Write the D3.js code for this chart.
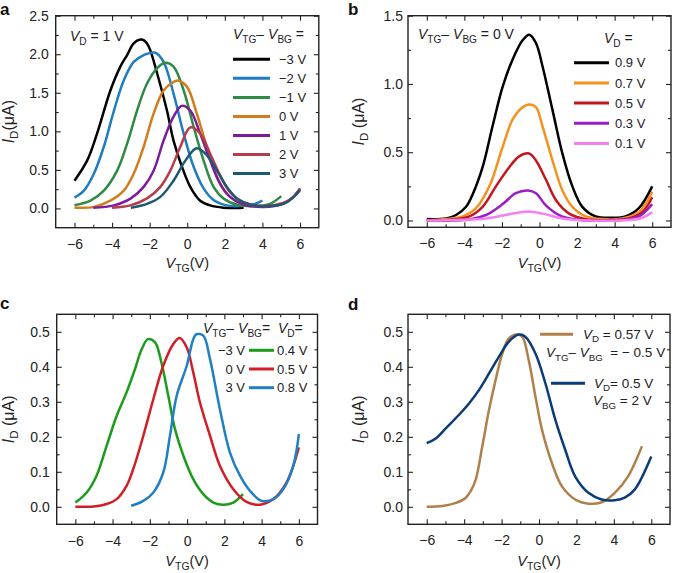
<!DOCTYPE html>
<html><head><meta charset="utf-8">
<script src="https://cdn.jsdelivr.net/npm/d3@7"></script>
<style>
body{margin:0;background:#fff;}
text{font-family:"Liberation Sans",Arial,Helvetica,sans-serif;white-space:pre;}
</style></head>
<body><svg id="c" width="673" height="573"></svg>
<script>
// ---------- DATA ----------
// Panel a: V_D = 1 V, V_TG - V_BG offsets
const aLabels = ["\u22123 V","\u22122 V","\u22121 V","0 V","1 V","2 V","3 V"];
const a_m3 = [[-6,0.36],[-5.33,0.62],[-4.8,0.97],[-4.09,1.53],[-3.56,1.84],[-3.2,1.99],[-2.85,2.14],[-2.5,2.19],[-2.3,2.18],[-2.05,2.1],[-1.6,1.75],[-1.08,1.27],[-0.73,0.88],[-0.28,0.54],[0.16,0.28],[0.69,0.10],[1.22,0.04],[1.93,0.01],[2.5,0.005],[3,0.01]];
const a_m2 = [[-6,0.14],[-5.5,0.23],[-4.97,0.45],[-4.44,0.8],[-3.9,1.27],[-3.38,1.66],[-2.85,1.9],[-2.32,1.99],[-1.9,2.02],[-1.7,2.02],[-1.26,1.9],[-0.73,1.49],[-0.19,0.97],[0.34,0.54],[0.87,0.26],[1.4,0.11],[2.1,0.04],[2.8,0.03],[3.5,0.05],[4,0.1]];
const a_m1 = [[-6,0.04],[-5.15,0.1],[-4.44,0.23],[-3.73,0.49],[-3.2,0.84],[-2.67,1.27],[-2.14,1.62],[-1.6,1.82],[-1.17,1.89],[-0.73,1.84],[-0.19,1.53],[0.34,1.06],[0.87,0.62],[1.4,0.28],[1.93,0.13],[2.64,0.05],[3.5,0.03],[4.4,0.06],[5,0.16]];
const a_0  = [[-6,0.01],[-4.97,0.02],[-4.09,0.1],[-3.38,0.23],[-2.85,0.45],[-2.32,0.8],[-1.79,1.23],[-1.26,1.53],[-0.73,1.64],[-0.5,1.66],[-0.02,1.58],[0.51,1.23],[1.04,0.8],[1.58,0.41],[2.1,0.19],[2.8,0.07],[3.88,0.03],[4.94,0.05],[5.5,0.12],[6,0.23]];
const a_1  = [[-5,0.01],[-3.9,0.04],[-3.0,0.13],[-2.32,0.28],[-1.79,0.49],[-1.26,0.88],[-0.73,1.19],[-0.3,1.33],[0.16,1.27],[0.69,0.97],[1.22,0.62],[1.75,0.32],[2.28,0.15],[2.99,0.05],[4.05,0.02],[5.1,0.06],[5.6,0.14],[6,0.26]];
const a_2  = [[-4,0.01],[-3.03,0.04],[-2.14,0.13],[-1.43,0.28],[-0.9,0.49],[-0.37,0.8],[0.16,1.05],[0.69,0.97],[1.22,0.71],[1.75,0.43],[2.28,0.21],[2.99,0.08],[4.05,0.03],[5.1,0.07],[5.6,0.14],[6,0.25]];
const a_3  = [[-3,0.01],[-2.14,0.06],[-1.43,0.15],[-0.73,0.36],[-0.1,0.62],[0.5,0.78],[1.04,0.69],[1.58,0.49],[2.1,0.28],[2.64,0.13],[3.35,0.05],[4.23,0.03],[5.29,0.08],[6,0.24]];
// Panel b: V_TG - V_BG = 0 V, V_D values
const bLabels = ["0.9 V","0.7 V","0.5 V","0.3 V","0.1 V"];
const b_09 = [[-6,0.01],[-4.97,0.015],[-4.44,0.04],[-3.91,0.1],[-3.56,0.19],[-3.03,0.39],[-2.5,0.69],[-1.96,0.98],[-1.43,1.18],[-0.9,1.32],[-0.55,1.36],[-0.19,1.3],[0.16,1.13],[0.69,0.81],[1.22,0.49],[1.75,0.25],[2.28,0.1],[2.99,0.03],[3.88,0.02],[4.58,0.03],[5.29,0.09],[6,0.25]];
const b_07 = [[-6,0],[-4.97,0.01],[-4.09,0.03],[-3.38,0.09],[-2.67,0.25],[-1.96,0.54],[-1.43,0.74],[-0.9,0.83],[-0.55,0.85],[-0.19,0.83],[0.16,0.69],[0.69,0.44],[1.22,0.22],[1.75,0.1],[2.46,0.03],[3.35,0.01],[4.4,0.015],[5.29,0.06],[6,0.21]];
const b_05 = [[-6,0],[-4.62,0.007],[-3.73,0.03],[-3.03,0.1],[-2.32,0.25],[-1.61,0.39],[-1.08,0.47],[-0.55,0.49],[-0.19,0.44],[0.34,0.3],[0.87,0.15],[1.58,0.05],[2.46,0.01],[3.7,0.003],[4.76,0.015],[5.47,0.06],[6,0.17]];
const b_03 = [[-6,0],[-3.73,0.007],[-2.85,0.04],[-1.96,0.12],[-1.26,0.2],[-0.6,0.22],[-0.19,0.2],[0.34,0.11],[1.04,0.04],[1.93,0.007],[4.23,0.002],[5.29,0.03],[6,0.12]];
const b_01 = [[-6,0],[-2.85,0.015],[-1.61,0.046],[-0.6,0.066],[0.16,0.05],[1.22,0.015],[2.28,0.002],[4.76,0.003],[5.47,0.02],[6,0.06]];
// Panel c
const cLeftLabels = ["\u22123 V","0 V","3 V"];
const cRightLabels = ["0.4 V","0.5 V","0.8 V"];
const c_g = [[-6,0.012],[-5.39,0.041],[-4.86,0.089],[-4.32,0.174],[-3.78,0.26],[-3.25,0.327],[-2.8,0.393],[-2.44,0.45],[-2.1,0.479],[-1.72,0.47],[-1.37,0.41],[-1.01,0.317],[-0.65,0.222],[-0.2,0.146],[0.33,0.079],[0.87,0.036],[1.41,0.012],[1.94,0.006],[2.48,0.012],[3,0.036]];
const c_r = [[-6,0],[-5.03,0.001],[-4.32,0.008],[-3.78,0.022],[-3.25,0.06],[-2.89,0.108],[-2.35,0.203],[-1.81,0.308],[-1.28,0.403],[-0.74,0.465],[-0.4,0.482],[-0.02,0.455],[0.33,0.384],[0.69,0.298],[1.23,0.203],[1.76,0.117],[2.48,0.05],[3.19,0.014],[3.91,0.006],[4.63,0.022],[5.34,0.07],[6,0.17]];
const c_b = [[-3,0.003],[-2.35,0.017],[-1.81,0.041],[-1.28,0.098],[-0.92,0.203],[-0.56,0.317],[-0.02,0.403],[0.33,0.479],[0.5,0.493],[0.87,0.489],[1.23,0.422],[1.76,0.279],[2.3,0.155],[2.84,0.089],[3.37,0.046],[4.0,0.017],[4.63,0.022],[5.16,0.05],[5.7,0.117],[6,0.208]];
// Panel d
const d_t = [[-6,0],[-5.15,0.002],[-4.44,0.011],[-3.91,0.026],[-3.65,0.045],[-3.38,0.078],[-3.03,0.173],[-2.67,0.277],[-2.32,0.362],[-1.96,0.438],[-1.61,0.481],[-1.2,0.492],[-0.9,0.486],[-0.55,0.419],[-0.19,0.315],[0.16,0.22],[0.69,0.125],[1.22,0.059],[1.93,0.021],[2.64,0.009],[3.35,0.013],[4.05,0.04],[4.76,0.087],[5.5,0.173]];
const d_n = [[-6,0.182],[-5.5,0.196],[-4.97,0.225],[-4.27,0.263],[-3.73,0.296],[-3.2,0.334],[-2.67,0.381],[-2.14,0.429],[-1.61,0.472],[-1.08,0.492],[-0.73,0.486],[-0.19,0.438],[0.34,0.353],[0.87,0.249],[1.4,0.163],[1.93,0.087],[2.64,0.04],[3.35,0.021],[4.05,0.019],[4.58,0.026],[5.11,0.049],[6,0.144]];

const xMajor = [-6,-4,-2,0,2,4,6];
const xMinor = [-5,-3,-1,1,3,5];
const aYMajor = [0,0.5,1,1.5,2,2.5], aYMinor = [0.25,0.75,1.25,1.75,2.25];
const bYMajor = [0,0.5,1,1.5], bYMinor = [0.25,0.75,1.25];
const cdYMajor = [0,0.1,0.2,0.3,0.4,0.5], cdYMinor = [0.05,0.15,0.25,0.35,0.45];

// ---------- DRAW ----------
const svg = d3.select("#c");
const FS = 14;

function rich(g, x, y, segs, size, anchor) {
  const t = g.append("text").attr("x", x).attr("y", y).attr("font-size", size)
    .attr("text-anchor", anchor || "start").attr("fill", "#222");
  let off = 0;
  segs.forEach(([s, st]) => {
    const ts = t.append("tspan").text(s);
    const sub = st.includes("s");
    const target = sub ? size * 0.28 : 0;
    if (target !== off) { ts.attr("dy", target - off); off = target; }
    if (sub) ts.attr("font-size", size * 0.72);
    if (st.includes("i")) ts.attr("font-style", "italic");
  });
  return t;
}

function panel(p) {
  const g = svg.append("g");
  const x = d3.scaleLinear().domain([-7, 7]).range([p.x0, p.x1]);
  const y = d3.scaleLinear().domain(p.ydom).range([p.y1, p.y0]);
  const fmt = d3.format(".1f");
  const style = s => { s.select(".domain").remove(); s.selectAll("line").attr("stroke", "#222").attr("stroke-width", 1.1); s.selectAll("text").attr("font-size", FS).attr("fill", "#222").attr("font-family", "Liberation Sans, Arial, sans-serif"); };
  g.append("g").attr("transform", `translate(0,${p.y1})`)
    .call(d3.axisBottom(x).tickValues(xMajor).tickSize(-5).tickSizeOuter(0).tickPadding(p.xpad).tickFormat(d3.format("d"))).call(style);
  g.append("g").attr("transform", `translate(0,${p.y1})`)
    .call(d3.axisBottom(x).tickValues(xMinor).tickSize(-3).tickSizeOuter(0).tickFormat("")).call(style);
  g.append("g").attr("transform", `translate(0,${p.y0})`)
    .call(d3.axisTop(x).tickValues(xMajor).tickSize(-5).tickSizeOuter(0).tickFormat("")).call(style);
  g.append("g").attr("transform", `translate(0,${p.y0})`)
    .call(d3.axisTop(x).tickValues(xMinor).tickSize(-3).tickSizeOuter(0).tickFormat("")).call(style);
  g.append("g").attr("transform", `translate(${p.x0},0)`)
    .call(d3.axisLeft(y).tickValues(p.yMajor).tickSize(-5).tickSizeOuter(0).tickPadding(p.ypad).tickFormat(fmt)).call(style);
  g.append("g").attr("transform", `translate(${p.x0},0)`)
    .call(d3.axisLeft(y).tickValues(p.yMinor).tickSize(-3).tickSizeOuter(0).tickFormat("")).call(style);
  g.append("g").attr("transform", `translate(${p.x1},0)`)
    .call(d3.axisRight(y).tickValues(p.yMajor).tickSize(-5).tickSizeOuter(0).tickFormat("")).call(style);
  g.append("g").attr("transform", `translate(${p.x1},0)`)
    .call(d3.axisRight(y).tickValues(p.yMinor).tickSize(-3).tickSizeOuter(0).tickFormat("")).call(style);
  g.append("rect").attr("x", p.x0).attr("y", p.y0).attr("width", p.x1 - p.x0).attr("height", p.y1 - p.y0)
    .attr("fill", "none").attr("stroke", "#222").attr("stroke-width", 1.4);
  const line = d3.line().x(d => x(d[0])).y(d => y(d[1])).curve(d3.curveCatmullRom.alpha(0.5));
  p.series.forEach(s => {
    g.append("path").attr("d", line(s.data)).attr("fill", "none").attr("stroke", s.color)
      .attr("stroke-width", 2.5).attr("stroke-linejoin", "round").attr("stroke-linecap", "butt");
  });
  rich(g, (p.x0 + p.x1) / 2, p.xt, [["V", "i"], ["TG", "s"], ["(V)", ""]], 14.5, "middle");
  const yl = rich(g, 0, 0, [["I", "i"], ["D", "s"], [p.ytxt, ""]], 16, "middle");
  yl.attr("transform", `translate(${p.yt},${(p.y0 + p.y1) / 2}) rotate(-90)`);
  g.append("text").attr("x", p.lx).attr("y", p.ly).attr("font-size", 17).attr("font-weight", "bold").attr("fill", "#111").text(p.letter);
  return { g, x, y };
}

// Panel a
const aCols = ["#000000", "#1f7cc0", "#2f8a44", "#d27c1e", "#7b1c9c", "#b73c4b", "#1c5a72"];
const A = panel({ x0: 55.7, x1: 318.8, y0: 15.7, y1: 227.7, ydom: [-0.25, 2.5], yMajor: aYMajor, yMinor: aYMinor,
  xpad: 11, ypad: 7, xt: 268, yt: 14, ytxt: "(\u03bcA)", letter: "a", lx: 0, ly: 15,
  series: [a_m3, a_m2, a_m1, a_0, a_1, a_2, a_3].map((d, i) => ({ data: d, color: aCols[i] })) });
rich(A.g, 70, 41, [["V", "i"], ["D", "s"], [" = 1 V", ""]], 14);
rich(A.g, 233, 39, [["V", "i"], ["TG", "s"], ["\u2013 ", ""], ["V", "i"], ["BG", "s"], [" =", ""]], 14);
aLabels.forEach((l, i) => {
  const yy = 59.3 + i * 19.05;
  A.g.append("line").attr("x1", 233).attr("x2", 270).attr("y1", yy).attr("y2", yy).attr("stroke", aCols[i]).attr("stroke-width", 3);
  A.g.append("text").attr("x", 279).attr("y", yy + 4.6).attr("font-size", 13).attr("fill", "#222").text(l);
});

// Panel b
const bCols = ["#000000", "#f5911f", "#c4161f", "#9a1fc2", "#f380f0"];
const B = panel({ x0: 408, x1: 671, y0: 15.7, y1: 227.3, ydom: [-0.05, 1.5], yMajor: bYMajor, yMinor: bYMinor,
  xpad: 11, ypad: 5, xt: 268, yt: 364, ytxt: " (\u03bcA)", letter: "b", lx: 348, ly: 15,
  series: [b_09, b_07, b_05, b_03, b_01].map((d, i) => ({ data: d, color: bCols[i] })) });
rich(B.g, 418, 39, [["V", "i"], ["TG", "s"], ["\u2013 ", ""], ["V", "i"], ["BG", "s"], [" = 0 V", ""]], 14);
rich(B.g, 604, 43, [["V", "i"], ["D", "s"], [" =", ""]], 14);
bLabels.forEach((l, i) => {
  const yy = 62.7 + i * 20.2;
  B.g.append("line").attr("x1", 574).attr("x2", 609).attr("y1", yy).attr("y2", yy).attr("stroke", bCols[i]).attr("stroke-width", 3);
  B.g.append("text").attr("x", 615).attr("y", yy + 4.6).attr("font-size", 13).attr("fill", "#222").text(l);
});

// Panel c
const cCols = ["#1c9c1c", "#d11e26", "#2180c2"];
const C = panel({ x0: 56.7, x1: 317.5, y0: 314.3, y1: 524.3, ydom: [-0.05, 0.55], yMajor: cdYMajor, yMinor: cdYMinor,
  xpad: 12, ypad: 7, xt: 566, yt: 14, ytxt: " (\u03bcA)", letter: "c", lx: 0, ly: 309,
  series: [c_g, c_r, c_b].map((d, i) => ({ data: d, color: cCols[i] })) });
rich(C.g, 203, 333, [["V", "i"], ["TG", "s"], ["\u2013 ", ""], ["V", "i"], ["BG", "s"], ["=  ", ""], ["V", "i"], ["D", "s"], ["=", ""]], 14);
cLeftLabels.forEach((l, i) => {
  const yy = 350.3 + i * 18.7;
  C.g.append("text").attr("x", 245).attr("y", yy + 4.6).attr("font-size", 13).attr("text-anchor", "end").attr("fill", "#222").text(l);
  C.g.append("line").attr("x1", 249).attr("x2", 274).attr("y1", yy).attr("y2", yy).attr("stroke", cCols[i]).attr("stroke-width", 3);
  C.g.append("text").attr("x", 277).attr("y", yy + 4.6).attr("font-size", 13).attr("fill", "#222").text(cRightLabels[i]);
});

// Panel d
const dCols = ["#b0804b", "#0c3b79"];
const D = panel({ x0: 408, x1: 670, y0: 314.3, y1: 524.3, ydom: [-0.05, 0.55], yMajor: cdYMajor, yMinor: cdYMinor,
  xpad: 11, ypad: 5, xt: 566, yt: 363.5, ytxt: " (\u03bcA)", letter: "d", lx: 348, ly: 310,
  series: [d_t, d_n].map((d, i) => ({ data: d, color: dCols[i] })) });
D.g.append("line").attr("x1", 540).attr("x2", 573).attr("y1", 334.3).attr("y2", 334.3).attr("stroke", dCols[0]).attr("stroke-width", 3);
rich(D.g, 583, 338.5, [["V", "i"], ["D", "s"], [" = 0.57 V", ""]], 13.5);
rich(D.g, 546, 357, [["V", "i"], ["TG", "s"], ["\u2013 ", ""], ["V", "i"], ["BG", "s"], ["  = \u2212 0.5 V", ""]], 13.5);
D.g.append("line").attr("x1", 551).attr("x2", 585).attr("y1", 383.3).attr("y2", 383.3).attr("stroke", dCols[1]).attr("stroke-width", 3);
rich(D.g, 594, 387.5, [["V", "i"], ["D", "s"], ["= 0.5 V", ""]], 13.5);
rich(D.g, 593, 405, [["V", "i"], ["BG", "s"], [" = 2 V", ""]], 13.5);
</script></body></html>
